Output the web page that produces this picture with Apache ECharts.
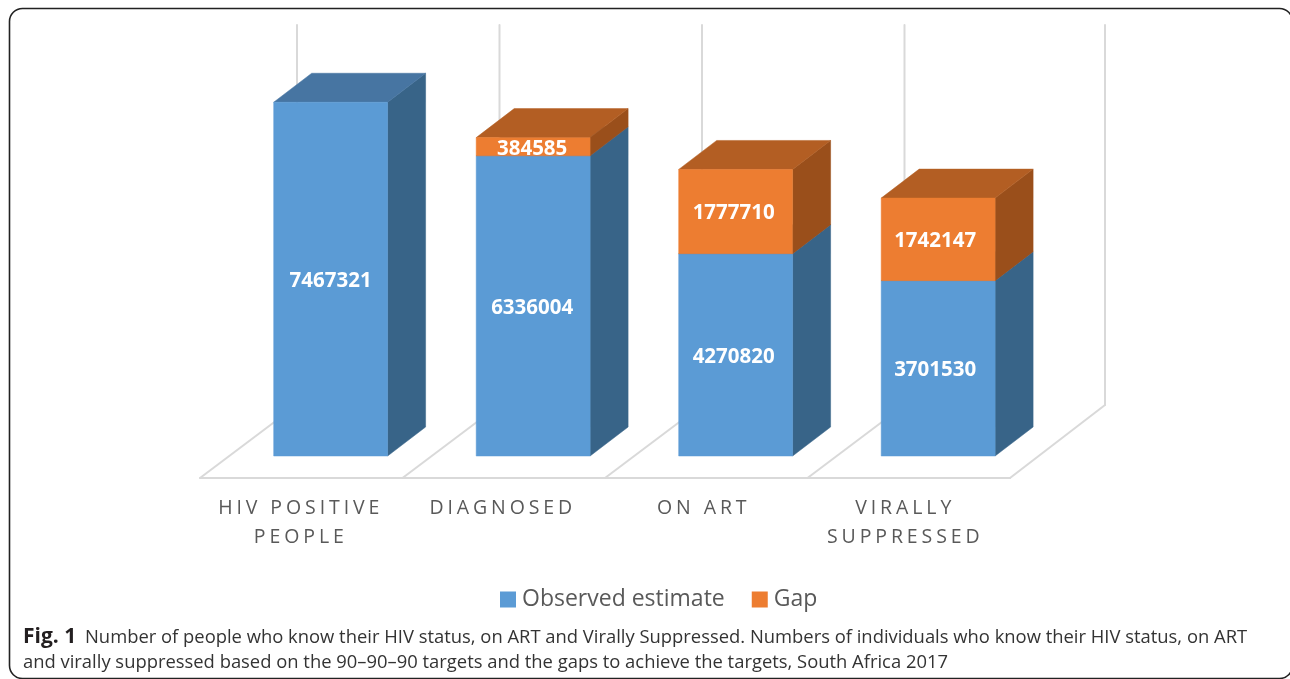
<!DOCTYPE html>
<html><head><meta charset="utf-8">
<style>html,body{margin:0;padding:0;background:#fff}#c{width:1290px;height:679px}</style>
<script src="https://cdn.jsdelivr.net/npm/echarts@6/dist/echarts.min.js"></script>
</head><body><div id="c"></div>
<script>
const categories = ['HIV POSITIVE\nPEOPLE', 'DIAGNOSED', 'ON ART', 'VIRALLY\nSUPPRESSED'];
const observedEstimate = [7467321, 6336004, 4270820, 3701530];
const gap = [null, 384585, 1777710, 1742147];
const captionBold = 'Fig. 1';
const captionLine1 = ' Number of people who know their HIV status, on ART and Virally Suppressed. Numbers of individuals who know their HIV status, on ART';
const captionLine2 = 'and virally suppressed based on the 90–90–90 targets and the gaps to achieve the targets, South Africa 2017';

// wide tracking of the category labels, which the canvas supports but the option does not expose
const AXIS_FONT = 19.5, TRACKING = '3.9px';
const rawFill = CanvasRenderingContext2D.prototype.fillText;
CanvasRenderingContext2D.prototype.fillText = function (t, x, y, m) {
  const f = this.font;
  this.letterSpacing = f.indexOf(AXIS_FONT + 'px') >= 0 ? TRACKING : '0px';
  this.font = f;
  return m === undefined ? rawFill.call(this, t, x, y) : rawFill.call(this, t, x, y, m);
};

const FLOOR_DX = 97, FLOOR_DX_LAST = 95, FLOOR_DY = -73, WALL_EXTRA = -1, BAR_DX = 29, BAR_DY = -22, DEPTH_DX = 38, DEPTH_DY = -29, BAR_RATIO = 0.5625;
const GRID_LINE = '#d9d9d9';
const LABEL_PAD_RIGHT = [1, 2, 5, 7];

function poly(points, fill) {
  return { type: 'polygon', shape: { points }, style: { fill, stroke: fill, lineWidth: 0.5 } };
}
function boxRender(front, top, side) {
  return function (params, api) {
    const base = api.coord([api.value(0), api.value(1)]);
    const peak = api.coord([api.value(0), api.value(2)]);
    const w = api.size([1, 0])[0] * BAR_RATIO;
    const x0 = base[0] - w / 2 + BAR_DX + 0.4, x1 = x0 + w;
    const yb = base[1] + BAR_DY, yt = peak[1] + BAR_DY;
    const children = [
      poly([[x1, yb], [x1 + DEPTH_DX, yb + DEPTH_DY], [x1 + DEPTH_DX, yt + DEPTH_DY], [x1, yt]], side),
      poly([[x0, yt], [x1, yt], [x1 + DEPTH_DX, yt + DEPTH_DY], [x0 + DEPTH_DX, yt + DEPTH_DY]], top),
      poly([[x0, yb], [x1, yb], [x1, yt], [x0, yt]], front),
      { type: 'text', z2: 5, style: {
          x: (x0 + x1) / 2 - api.value(0), y: (yb + yt) / 2 + 2, text: String(api.value(2) - api.value(1)),
          fill: '#fff', align: 'center', verticalAlign: 'middle',
          fontFamily: 'Open Sans', fontWeight: 'bold', fontSize: 20.5 } }
    ];
    return { type: 'group', children };
  };
}
function line(a, b) {
  return { type: 'line', shape: { x1: a[0], y1: a[1], x2: b[0], y2: b[1] },
           style: { stroke: GRID_LINE, lineWidth: 2, lineCap: 'round' } };
}
function floorRender(params, api) {
  const i = api.value(0);
  const band = api.size([1, 0])[0];
  const c0 = api.coord([i, 0]), cTop = api.coord([i, 8000000]);
  const children = [];
  const edge = function (x, dx) {
    const by = c0[1] + FLOOR_DY, bx = x + dx;
    children.push(line([x, c0[1]], [bx, by]));
    children.push(line([bx, by], [bx, cTop[1] + FLOOR_DY + WALL_EXTRA]));
  };
  edge(c0[0] - band / 2, FLOOR_DX);
  if (i === categories.length - 1) edge(c0[0] + band / 2, FLOOR_DX_LAST);
  return { type: 'group', children };
}

const chart = echarts.init(document.getElementById('c'), null, { renderer: 'canvas' });
chart.setOption({
  animation: false,
  backgroundColor: '#fff',
  title: {
    left: 23, top: 625, padding: 0,
    text: '{b|' + captionBold + '}{n|' + captionLine1 + '}\n{n|' + captionLine2 + '}',
    textStyle: { rich: {
      b: { fontFamily: 'Open Sans', fontWeight: 'bold', fontSize: 21, color: '#231f20', lineHeight: 25, padding: [0, 4, 0, 0] },
      n: { fontFamily: 'Open Sans', fontWeight: 'normal', fontSize: 18.4, color: '#333', lineHeight: 25 }
    } }
  },
  graphic: [{ type: 'rect', silent: true, z: -1,
    shape: { x: 9.5, y: 8.5, width: 1283, height: 670, r: 13 },
    style: { fill: 'none', stroke: '#222', lineWidth: 1.6 } }],
  legend: {
    data: ['Observed estimate', 'Gap'], left: 495, top: 583, icon: 'rect',
    itemWidth: 16, itemHeight: 16, itemGap: 27, selectedMode: false,
    textStyle: { fontFamily: 'Open Sans', fontSize: 23, color: '#595959', padding: [0, 0, 0, 1] }
  },
  grid: { left: 200, right: 280, top: 99, bottom: 201 },
  xAxis: { type: 'category',
    data: categories.map((c, i) => ({ value: c, textStyle: { padding: [0, LABEL_PAD_RIGHT[i], 0, 0] } })),
    axisTick: { show: false },
    axisLine: { lineStyle: { color: GRID_LINE, width: 2 } },
    axisLabel: { interval: 0, margin: 16, fontFamily: 'Open Sans', fontSize: AXIS_FONT, color: '#595959', lineHeight: 29 } },
  yAxis: { type: 'value', min: 0, max: 8000000, show: false },
  series: [
    { type: 'custom', name: 'Floor', renderItem: floorRender, silent: true,
      data: categories.map((c, i) => [i, 0]) },
    { type: 'custom', name: 'Observed estimate', renderItem: boxRender('#5b9bd5', '#4775a2', '#386488'),
      itemStyle: { color: '#5b9bd5' }, encode: { x: 0, y: 2 },
      data: observedEstimate.map((v, i) => [i, 0, v]) },
    { type: 'custom', name: 'Gap', renderItem: boxRender('#ed7d31', '#b35e23', '#9a4f1b'),
      itemStyle: { color: '#ed7d31' }, encode: { x: 0, y: 2 },
      data: gap.map((v, i) => v == null ? null : [i, observedEstimate[i], observedEstimate[i] + v]).filter(Boolean) }
  ]
});
</script></body></html>
